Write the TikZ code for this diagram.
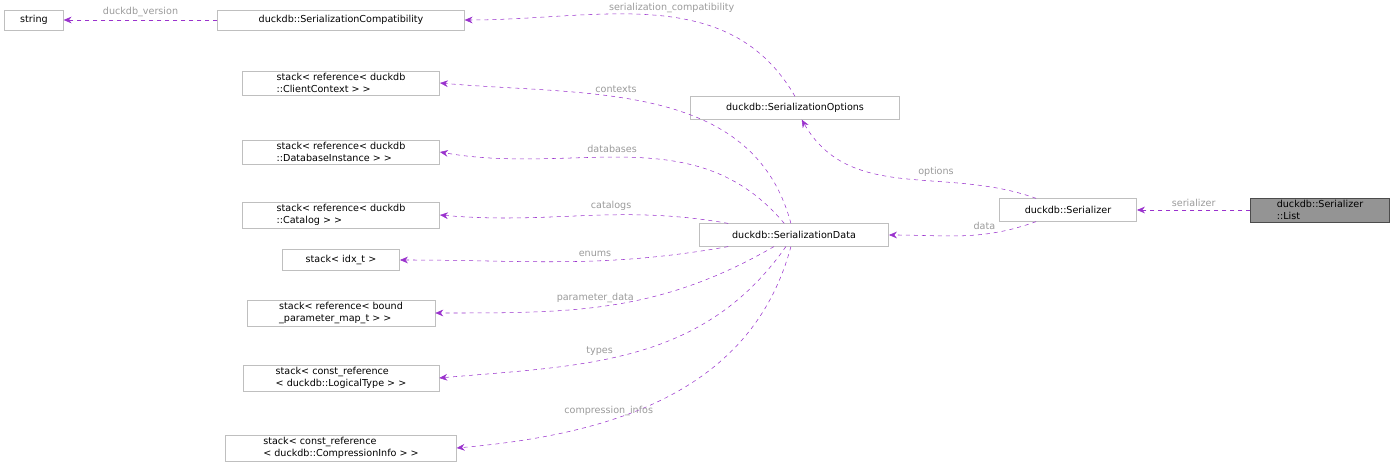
\documentclass[tikz,border=0pt]{standalone}
\usepackage{fontspec}
\setmainfont{DejaVu Sans}
\usetikzlibrary{positioning,arrows.meta}
\definecolor{edgepurple}{HTML}{9A32CD}
\definecolor{labelgray}{HTML}{9A9A9A}
\definecolor{boxgray}{HTML}{BFBFBF}
\tikzset{cls/.style={draw=boxgray,fill=white,inner sep=2pt,align=left,font=\fontsize{7.2}{8.6}\selectfont},
  cur/.style={cls,draw=black!70,fill=black!42},
  dep/.style={draw=edgepurple,dashed,-{Stealth[length=6pt,width=5pt]}},
  lbl/.style={text=labelgray,font=\fontsize{7.2}{8.6}\selectfont}}
\begin{document}
\begin{tikzpicture}[x=0.75pt,y=-0.75pt]
        \useasboundingbox (0,0) rectangle (1396,473);
        \node[cls,minimum width=44pt,minimum height=15pt] (str) at (34,20) {string};
        \node[cls,minimum width=185pt,minimum height=15pt] (compat) at (341,20) {duckdb::SerializationCompatibility};
        \node[cls,minimum width=157pt,minimum height=17pt] (opts) at (795,108) {duckdb::SerializationOptions};
        \node[cls,minimum width=148pt] (ctx) at (341,83) {stack\textless{} reference\textless{} duckdb\\::ClientContext \textgreater{} \textgreater{}};
        \node[cls,minimum width=148pt] (dbi) at (341,152) {stack\textless{} reference\textless{} duckdb\\::DatabaseInstance \textgreater{} \textgreater{}};
        \node[cls,minimum width=148pt] (cat) at (341,215) {stack\textless{} reference\textless{} duckdb\\::Catalog \textgreater{} \textgreater{}};
        \node[cls,minimum width=88pt,minimum height=16pt] (idx) at (341,260) {stack\textless{} idx\_t \textgreater{}};
        \node[cls,minimum width=141pt] (bpm) at (341,313) {stack\textless{} reference\textless{} bound\\\_parameter\_map\_t \textgreater{} \textgreater{}};
        \node[cls,minimum width=147pt] (ltype) at (341,378) {stack\textless{} const\_reference\\\textless{} duckdb::LogicalType \textgreater{} \textgreater{}};
        \node[cls,minimum width=173pt] (cinfo) at (341,448) {stack\textless{} const\_reference\\\textless{} duckdb::CompressionInfo \textgreater{} \textgreater{}};
        \node[cls,minimum width=142pt,minimum height=17pt] (sdata) at (794,235) {duckdb::SerializationData};
        \node[cls,minimum width=103pt,minimum height=17pt] (ser) at (1068,210) {duckdb::Serializer};
        \node[cur,minimum width=104pt] (list) at (1320,210) {duckdb::Serializer\\::List};

        \draw[dep] (compat) -- (str) node[lbl,midway,above=-1pt]{duckdb\_version};
        \draw[dep] (opts.north) to[out=120,in=0] node[lbl,pos=0.45,above]{serialization\_compatibility} (compat.east);
        \draw[dep] (sdata) to[out=105,in=-5] node[lbl,pos=0.6,above]{contexts} (ctx.east);
        \draw[dep] (sdata) to[out=130,in=-10] node[lbl,pos=0.55,above]{databases} (dbi.east);
        \draw[dep] (sdata) to[out=170,in=-5] node[lbl,pos=0.4,above]{catalogs} (cat.east);
        \draw[dep] (sdata) to[out=190,in=0] node[lbl,pos=0.4,above]{enums} (idx.east);
        \draw[dep] (sdata) to[out=210,in=0] node[lbl,pos=0.55,above]{parameter\_data} (bpm.east);
        \draw[dep] (sdata) to[out=235,in=5] node[lbl,pos=0.6,above]{types} (ltype.east);
        \draw[dep] (sdata) to[out=255,in=5] node[lbl,pos=0.65,above]{compression\_infos} (cinfo.east);
        \draw[dep] (ser) to[out=160,in=-60] node[lbl,pos=0.45,above right=-2pt]{options} (opts);
        \draw[dep] (ser) to[out=200,in=0] node[lbl,pos=0.35,above]{data} (sdata);
        \draw[dep] (list) -- node[lbl,above=-1pt]{serializer} (ser);
\end{tikzpicture}
\end{document}
